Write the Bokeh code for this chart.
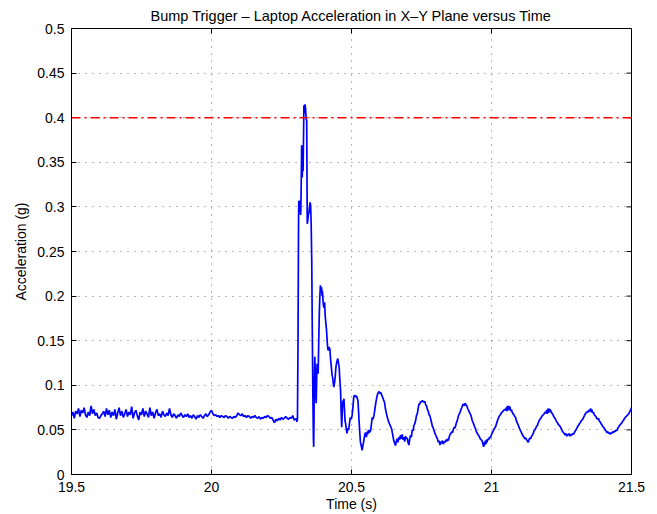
from math import pi
from bokeh.plotting import figure
from bokeh.models import FixedTicker, Range1d, Span, ColumnDataSource
from bokeh.embed import file_html
from bokeh.resources import INLINE

# ---------------- data ----------------
title_text = "Bump Trigger \u2013 Laptop Acceleration in X\u2013Y Plane versus Time"
x_label = "Time (s)"
y_label = "Acceleration (g)"

x_ticks = [19.5, 20.0, 20.5, 21.0, 21.5]
x_tick_labels = ["19.5", "20", "20.5", "21", "21.5"]
y_ticks = [0.0, 0.05, 0.1, 0.15, 0.2, 0.25, 0.3, 0.35, 0.4, 0.45, 0.5]
y_tick_labels = ["0", "0.05", "0.1", "0.15", "0.2", "0.25", "0.3", "0.35", "0.4", "0.45", "0.5"]

trigger_threshold = 0.4

# quiet period, sampled every 5 ms from 19.5 s
base_start = 19.5
base_step = 0.005
base_accel = [
    0.066, 0.070, 0.063, 0.071, 0.068, 0.074, 0.065, 0.072, 0.069, 0.075,
    0.067, 0.064, 0.070, 0.066, 0.077, 0.068, 0.073, 0.066, 0.069, 0.064,
    0.063, 0.066, 0.068, 0.071, 0.065, 0.074, 0.067, 0.072, 0.064, 0.070,
    0.066, 0.073, 0.062, 0.069, 0.075, 0.066, 0.071, 0.064, 0.068, 0.073,
    0.065, 0.070, 0.067, 0.076, 0.063, 0.069, 0.072, 0.066, 0.061, 0.070,
    0.067, 0.074, 0.065, 0.071, 0.068, 0.064, 0.075, 0.066, 0.070, 0.063,
    0.069, 0.073, 0.066, 0.068, 0.064, 0.071, 0.067, 0.065, 0.069, 0.066,
    0.074, 0.067, 0.064, 0.068, 0.066, 0.063, 0.067, 0.065, 0.069, 0.066,
    0.064, 0.067, 0.065, 0.068, 0.064, 0.066, 0.063, 0.067, 0.065, 0.062,
    0.066, 0.064, 0.067, 0.065, 0.063, 0.066, 0.068, 0.065, 0.067, 0.070,
    0.072,
    0.068, 0.066, 0.067, 0.065, 0.066, 0.064, 0.066, 0.065, 0.064, 0.066,
    0.065, 0.063, 0.065, 0.064, 0.063, 0.065, 0.064, 0.066, 0.069, 0.067,
    0.066, 0.068, 0.065, 0.066, 0.064, 0.066, 0.065, 0.063, 0.065, 0.064,
    0.066, 0.064, 0.063, 0.065, 0.062, 0.064, 0.063, 0.065, 0.064, 0.066,
    0.065, 0.063, 0.064, 0.061, 0.058, 0.062, 0.060, 0.063, 0.061, 0.064,
    0.062, 0.063, 0.065, 0.063, 0.062, 0.064, 0.063, 0.066, 0.061, 0.062,
]

# bump event and the ringing that follows
event_time = [
    20.303, 20.305, 20.307, 20.309, 20.311, 20.312, 20.314, 20.316, 20.318, 20.319,
    20.321, 20.322, 20.324, 20.326, 20.327, 20.329, 20.330, 20.332, 20.334, 20.336,
    20.338, 20.340, 20.342, 20.344, 20.346, 20.348, 20.350, 20.352, 20.354, 20.356,
    20.358, 20.360, 20.362, 20.364, 20.365, 20.366, 20.367, 20.369, 20.371, 20.372,
    20.374, 20.375, 20.377, 20.379, 20.381, 20.383, 20.385, 20.387, 20.389, 20.391,
    20.393, 20.395, 20.396, 20.399, 20.401, 20.404, 20.406, 20.409, 20.411, 20.413,
    20.415, 20.417, 20.420, 20.423, 20.425, 20.427, 20.429, 20.431, 20.433, 20.435,
    20.437, 20.440, 20.442, 20.444, 20.446, 20.449, 20.451, 20.453, 20.456, 20.458,
    20.461, 20.463, 20.465, 20.467, 20.469, 20.471, 20.473, 20.475, 20.477, 20.479,
    20.482, 20.484, 20.487, 20.490, 20.493, 20.496, 20.499, 20.502, 20.505, 20.508,
    20.511, 20.514, 20.518, 20.521, 20.523, 20.525, 20.527, 20.530, 20.532, 20.535,
    20.538, 20.541, 20.544, 20.547, 20.550, 20.553, 20.556, 20.558, 20.561, 20.564,
    20.568, 20.571, 20.574, 20.577, 20.580, 20.583, 20.586, 20.590, 20.594, 20.598,
    20.601, 20.604, 20.608, 20.612, 20.615, 20.618, 20.621, 20.625, 20.629, 20.633,
    20.638, 20.643, 20.647, 20.651, 20.654, 20.657, 20.660, 20.663, 20.666, 20.669,
    20.672, 20.675, 20.678, 20.681, 20.684, 20.687, 20.690, 20.693, 20.696, 20.699,
    20.702, 20.705, 20.708, 20.711, 20.714, 20.717, 20.720, 20.723, 20.726, 20.729,
    20.732, 20.735, 20.738, 20.741, 20.744, 20.747, 20.750, 20.753, 20.756, 20.759,
    20.762, 20.765, 20.768, 20.771, 20.774, 20.777, 20.780, 20.783, 20.786, 20.789,
    20.792, 20.795, 20.798, 20.801, 20.804, 20.807, 20.810, 20.813, 20.816, 20.819,
    20.822, 20.825, 20.828, 20.831, 20.834, 20.837, 20.840, 20.843, 20.846, 20.849,
    20.852, 20.855, 20.858, 20.861, 20.864, 20.867, 20.870, 20.873, 20.876, 20.879,
    20.882, 20.885, 20.888, 20.891, 20.894, 20.897, 20.900, 20.903, 20.906, 20.909,
    20.912, 20.915, 20.918, 20.921, 20.924, 20.927, 20.930, 20.933, 20.936, 20.939,
    20.942, 20.945, 20.948, 20.951, 20.954, 20.957, 20.960, 20.963, 20.966, 20.969,
    20.972, 20.974, 20.976, 20.978, 20.980, 20.982, 20.984, 20.987, 20.990, 20.993,
    20.996, 20.999, 21.002, 21.005, 21.008, 21.011, 21.014, 21.017, 21.020, 21.023,
    21.026, 21.029, 21.032, 21.035, 21.038, 21.041, 21.044, 21.047, 21.050, 21.053,
    21.055, 21.057, 21.059, 21.062, 21.064, 21.066, 21.068, 21.071, 21.074, 21.077,
    21.080, 21.083, 21.086, 21.089, 21.092, 21.095, 21.098, 21.101, 21.104, 21.107,
    21.110, 21.113, 21.116, 21.119, 21.122, 21.125, 21.128, 21.131, 21.134, 21.137,
    21.140, 21.143, 21.146, 21.149, 21.152, 21.155, 21.158, 21.161, 21.164, 21.167,
    21.170, 21.173, 21.176, 21.179, 21.182, 21.185, 21.188, 21.191, 21.194, 21.197,
    21.199, 21.201, 21.203, 21.205, 21.207, 21.209, 21.212, 21.215, 21.218, 21.221,
    21.224, 21.227, 21.230, 21.233, 21.236, 21.239, 21.242, 21.245, 21.248, 21.251,
    21.254, 21.257, 21.260, 21.263, 21.266, 21.269, 21.272, 21.275, 21.278, 21.281,
    21.284, 21.287, 21.290, 21.293, 21.296, 21.299, 21.302, 21.305, 21.308, 21.311,
    21.314, 21.317, 21.320, 21.323, 21.326, 21.329, 21.332, 21.335, 21.338, 21.341,
    21.344, 21.347, 21.350, 21.352, 21.354, 21.356, 21.358, 21.361, 21.364, 21.367,
    21.370, 21.373, 21.376, 21.379, 21.382, 21.385, 21.388, 21.391, 21.394, 21.397,
    21.400, 21.403, 21.406, 21.409, 21.412, 21.415, 21.418, 21.421, 21.424, 21.427,
    21.430, 21.433, 21.436, 21.439, 21.442, 21.445, 21.448, 21.451, 21.454, 21.457,
    21.460, 21.463, 21.466, 21.469, 21.472, 21.475, 21.478, 21.481, 21.484, 21.487,
    21.490, 21.493, 21.496, 21.498, 21.500,
]
event_accel = [
    0.063, 0.059, 0.062, 0.150, 0.290, 0.307, 0.300, 0.307, 0.291, 0.296,
    0.340, 0.369, 0.333, 0.360, 0.340, 0.385, 0.414, 0.405, 0.415, 0.410,
    0.398, 0.397, 0.281, 0.285, 0.292, 0.293, 0.300, 0.305, 0.302, 0.280,
    0.240, 0.160, 0.090, 0.040, 0.031, 0.060, 0.100, 0.132, 0.110, 0.090,
    0.080, 0.100, 0.124, 0.118, 0.113, 0.150, 0.180, 0.200, 0.212, 0.207,
    0.210, 0.200, 0.206, 0.192, 0.187, 0.193, 0.178, 0.168, 0.161, 0.150,
    0.142, 0.139, 0.143, 0.140, 0.130, 0.124, 0.117, 0.111, 0.108, 0.102,
    0.098, 0.104, 0.110, 0.119, 0.124, 0.128, 0.130, 0.126, 0.120, 0.108,
    0.094, 0.070, 0.053, 0.070, 0.083, 0.079, 0.085, 0.072, 0.060, 0.057,
    0.050, 0.046, 0.052, 0.050, 0.058, 0.064, 0.062, 0.066, 0.075, 0.087,
    0.089, 0.087, 0.088, 0.085, 0.083, 0.072, 0.0605, 0.045, 0.036, 0.032,
    0.027, 0.033, 0.038, 0.044, 0.047, 0.042, 0.048, 0.045, 0.050, 0.047,
    0.049, 0.056, 0.064, 0.062, 0.066, 0.072, 0.079, 0.086, 0.091, 0.093,
    0.091, 0.092, 0.089, 0.086, 0.083, 0.081, 0.074, 0.068, 0.063, 0.0587,
    0.055, 0.0515, 0.045, 0.038, 0.035, 0.0325, 0.037, 0.040, 0.036, 0.042,
    0.039, 0.044, 0.040, 0.045, 0.039, 0.042, 0.037, 0.043, 0.040, 0.041,
    0.036, 0.033, 0.040, 0.044, 0.042, 0.050, 0.049, 0.055, 0.057, 0.0605,
    0.066, 0.068, 0.074, 0.079, 0.079, 0.082, 0.081, 0.083, 0.082, 0.081,
    0.082, 0.078, 0.077, 0.073, 0.071, 0.067, 0.066, 0.062, 0.058, 0.054,
    0.052, 0.049, 0.046, 0.044, 0.042, 0.040, 0.036, 0.038, 0.033, 0.037,
    0.035, 0.038, 0.034, 0.037, 0.036, 0.039, 0.037, 0.040, 0.038, 0.042,
    0.045, 0.046, 0.048, 0.047, 0.051, 0.053, 0.052, 0.056, 0.059, 0.062,
    0.066, 0.068, 0.070, 0.073, 0.075, 0.078, 0.079, 0.077, 0.080, 0.078,
    0.077, 0.074, 0.072, 0.070, 0.068, 0.066, 0.062, 0.059, 0.057, 0.054,
    0.052, 0.049, 0.047, 0.045, 0.044, 0.042, 0.040, 0.039, 0.038, 0.035,
    0.031, 0.036, 0.033, 0.038, 0.034, 0.039, 0.036, 0.040, 0.039, 0.042,
    0.041, 0.044, 0.046, 0.048, 0.050, 0.052, 0.053, 0.056, 0.059, 0.062,
    0.064, 0.066, 0.067, 0.069, 0.070, 0.071, 0.072, 0.073, 0.072, 0.075,
    0.071, 0.077, 0.072, 0.077, 0.073, 0.076, 0.071, 0.073, 0.070, 0.068,
    0.067, 0.065, 0.064, 0.060, 0.058, 0.056, 0.053, 0.051, 0.049, 0.047,
    0.045, 0.043, 0.042, 0.040, 0.041, 0.039, 0.038, 0.036, 0.039, 0.041,
    0.040, 0.043, 0.044, 0.046, 0.049, 0.050, 0.052, 0.054, 0.055, 0.058,
    0.060, 0.062, 0.063, 0.065, 0.066, 0.067, 0.068, 0.070, 0.069, 0.072,
    0.068, 0.074, 0.069, 0.074, 0.070, 0.073, 0.071, 0.069, 0.068, 0.066,
    0.064, 0.063, 0.061, 0.059, 0.058, 0.056, 0.055, 0.054, 0.052, 0.050,
    0.048, 0.047, 0.046, 0.044, 0.046, 0.043, 0.045, 0.044, 0.046, 0.043,
    0.045, 0.044, 0.046, 0.045, 0.047, 0.049, 0.050, 0.052, 0.054, 0.055,
    0.057, 0.058, 0.060, 0.061, 0.062, 0.064, 0.066, 0.068, 0.069, 0.070,
    0.071, 0.070, 0.073, 0.071, 0.074, 0.070, 0.073, 0.069, 0.070, 0.067,
    0.066, 0.065, 0.063, 0.062, 0.063, 0.060, 0.059, 0.057, 0.056, 0.054,
    0.053, 0.052, 0.050, 0.049, 0.047, 0.048, 0.046, 0.047, 0.045, 0.047,
    0.046, 0.048, 0.047, 0.049, 0.048, 0.050, 0.049, 0.052, 0.053, 0.055,
    0.056, 0.057, 0.058, 0.060, 0.061, 0.063, 0.064, 0.065, 0.066, 0.067,
    0.068, 0.070, 0.072, 0.073, 0.075,
]

# ---------------- assemble series ----------------
base_time = [round(base_start + base_step * i, 3) for i in range(len(base_accel))]
times = base_time + event_time
accel = base_accel + event_accel
src = ColumnDataSource(data=dict(t=times, a=accel))

FONT = "Liberation Sans"

p = figure(
    frame_width=560, frame_height=446,
    x_range=Range1d(x_ticks[0], x_ticks[-1]),
    y_range=Range1d(y_ticks[0], y_ticks[-1]),
    output_backend="svg", toolbar_location=None,
    min_border_left=71, min_border_top=28, min_border_right=18, min_border_bottom=10,
)
p.background_fill_color = "white"
p.border_fill_color = "white"
p.outline_line_color = "black"
p.outline_line_width = 1

# title
p.title.text = title_text
p.title.align = "center"
p.title.text_font = FONT
p.title.text_font_size = "14.5px"
p.title.text_font_style = "normal"
p.title.text_color = "black"
p.title.standoff = 9

def style_axis(ax, ticks, labels):
    ax.ticker = FixedTicker(ticks=ticks)
    ax.major_label_overrides = {t: l for t, l in zip(ticks, labels)}
    ax.major_tick_in = 5
    ax.major_tick_out = 0
    ax.minor_tick_line_color = None
    ax.axis_line_color = "black"
    ax.major_tick_line_color = "black"
    ax.major_label_text_font = FONT
    ax.major_label_text_color = "black"
    ax.major_label_text_font_size = "14px"
    ax.major_label_standoff = 7
    ax.axis_label_text_font = FONT
    ax.axis_label_text_font_size = "14px"
    ax.axis_label_text_font_style = "normal"
    ax.axis_label_text_color = "black"

style_axis(p.xaxis[0], x_ticks, x_tick_labels)
style_axis(p.yaxis[0], y_ticks, y_tick_labels)
p.xaxis[0].axis_label = x_label
p.xaxis[0].axis_label_standoff = 1
p.yaxis[0].axis_label = y_label
p.yaxis[0].axis_label_standoff = 5
p.yaxis[0].major_label_standoff = 7

# grids
for g in (p.xgrid[0], p.ygrid[0]):
    g.grid_line_color = "black"
    g.grid_line_alpha = 0.55
    g.grid_line_width = 1
    g.grid_line_dash = "1 6"
p.xgrid[0].ticker = FixedTicker(ticks=x_ticks)
p.ygrid[0].ticker = FixedTicker(ticks=y_ticks)

# threshold
p.add_layout(Span(location=trigger_threshold, dimension="width",
                  line_color="#FF0000", line_width=1.6, line_dash="9 4 2 4"))

# acceleration trace
p.line("t", "a", source=src, line_color="#0000FF", line_width=1.7)

# inward tick marks on the top and right edges of the box
p.ray(x=x_ticks, y=[y_ticks[-1]] * len(x_ticks), length=5, length_units="screen",
      angle=-pi / 2, line_color="black", line_width=1)
p.ray(x=[x_ticks[-1]] * len(y_ticks), y=y_ticks, length=5, length_units="screen",
      angle=pi, line_color="black", line_width=1)

open("out.html", "w").write(file_html(p, INLINE))
